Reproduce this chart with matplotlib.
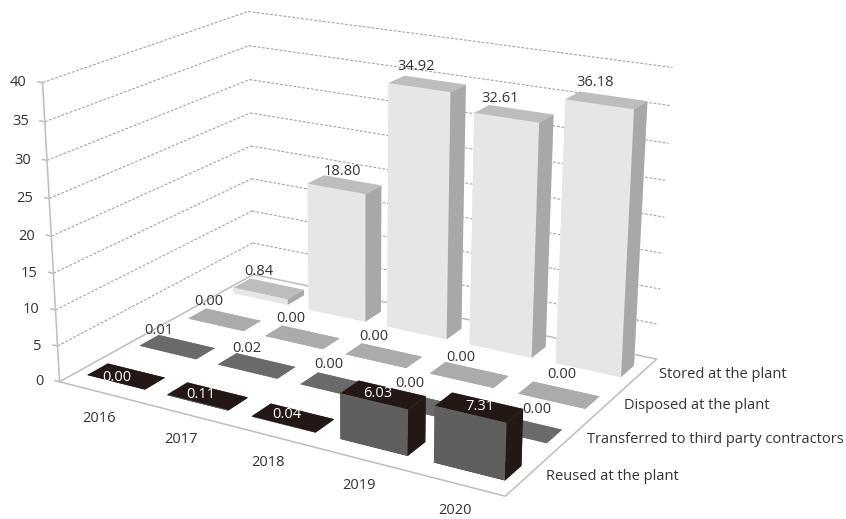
import numpy as np
import matplotlib
matplotlib.use("Agg")
import matplotlib.pyplot as plt
from mpl_toolkits.mplot3d import proj3d

plt.rcParams["font.family"] = ["Open Sans", "DejaVu Sans"]

# Data
years = ["2016", "2017", "2018", "2019", "2020"]
series = ["Reused at the plant", "Transferred to third party contractors",
          "Disposed at the plant", "Stored at the plant"]
reused = [0.00, 0.11, 0.04, 6.03, 7.31]
transferred = [0.01, 0.02, 0.00, 0.00, 0.00]
disposed = [0.00, 0.00, 0.00, 0.00, 0.00]
stored = [0.84, 18.80, 34.92, 32.61, 36.18]
z_ticks = [0, 5, 10, 15, 20, 25, 30, 35, 40]

# Face colours: bottom, top, front, back, left, right
face_colors = [
    ["#231815", "#231815", "#5f5f5f", "#5f5f5f", "#5f5f5f", "#231815"],
    ["#6a6a6a", "#6a6a6a", "#6a6a6a", "#6a6a6a", "#6a6a6a", "#555555"],
    ["#ababab", "#ababab", "#ababab", "#ababab", "#ababab", "#a0a0a0"],
    ["#e6e6e6", "#bdbdbd", "#e6e6e6", "#e6e6e6", "#e6e6e6", "#a8a8a8"],
]
label_colors = ["white", "#333333", "#333333", "#333333"]
# pixel offset of each value label from the centre of its bar top
label_offsets = [
    [(-9, 1), (-7, -1), (-6, -3), (-5, -1), (1, -1)],
    [(-18, -16), (-10, -17), (-11, -21), (-18, -23), (17, -19)],
    [(-16, -18), (-11, -19), (-10, -19), (-8, -17), (3, -21)],
    [(-10, -17), (-2, -13), (-11, -17), (-14, -15), (-11, -18)],
]

bar_dx = 0.725
bar_dy = 0.385
bar_x0 = (1 - bar_dx) / 2
bar_y0 = (1 - bar_dy) / 2

fig = plt.figure(figsize=(8.46, 5.19), dpi=100)
ax = fig.add_axes([18.1 / 846, -51.69 / 519, 670.2 / 846, 670.2 / 519], projection="3d")
ax.set_xlim(0, 5)
ax.set_ylim(0, 4)
ax.set_zlim(0, 40)
ax.view_init(19.085, -59.893)
ax.set_proj_type("persp", focal_length=0.5249)
ax.set_box_aspect((1, 0.7142, 0.6235))
ax.set_axis_off()


def label(x, y, z, text, dx, dy, ha="center", color="#333333"):
    # text placed at a pixel offset from a projected 3d point
    px, py, _ = proj3d.proj_transform(x, y, z, ax.get_proj())
    ax.annotate(text, (px, py), xytext=(dx * 0.72, -dy * 0.72), textcoords="offset points",
                ha=ha, va="center", fontsize=10.5, color=color, zorder=100, annotation_clip=False)


# Walls and floor
grid_style = {"color": "#a3a3a3", "linewidth": 0.8, "linestyle": (0, (2.5, 1.5))}
floor_style = {"color": "#bdbdbd", "linewidth": 1.1}
for z in z_ticks[1:]:
    ax.plot([0, 0], [0, 4], [z, z], **grid_style)
    ax.plot([0, 5], [4, 4], [z, z], **grid_style)
ax.plot([0, 0, 5, 5, 0], [4, 0, 0, 4, 4], [0, 0, 0, 0, 0], **floor_style)
ax.plot([0, 0], [0, 0], [0, 40], **floor_style)
for z in z_ticks:
    ax.plot([-0.06, 0], [0, 0], [z, z], **floor_style)
    label(0, 0, z, str(z), -16, 0, ha="right")

# Bars
all_values = [reused, transferred, disposed, stored]
for j, values in reversed(list(enumerate(all_values))):
    for i, v in enumerate(values):
        ax.bar3d(i + bar_x0, j + bar_y0, 0, bar_dx, bar_dy, v, color=face_colors[j], shade=False,
                 linewidth=0, edgecolor="none")
        off = label_offsets[j][i]
        label(i + 0.5, j + 0.5, v, f"{v:.2f}", off[0], off[1], color=label_colors[j])

# Category labels
for i, year in enumerate(years):
    label(i + 0.5, 0, 0, year, 0, 27)
for j, name in enumerate(series):
    label(5, j + 0.5, 0, name, 19, 0, ha="left")

fig.savefig("out.png", dpi=100)
